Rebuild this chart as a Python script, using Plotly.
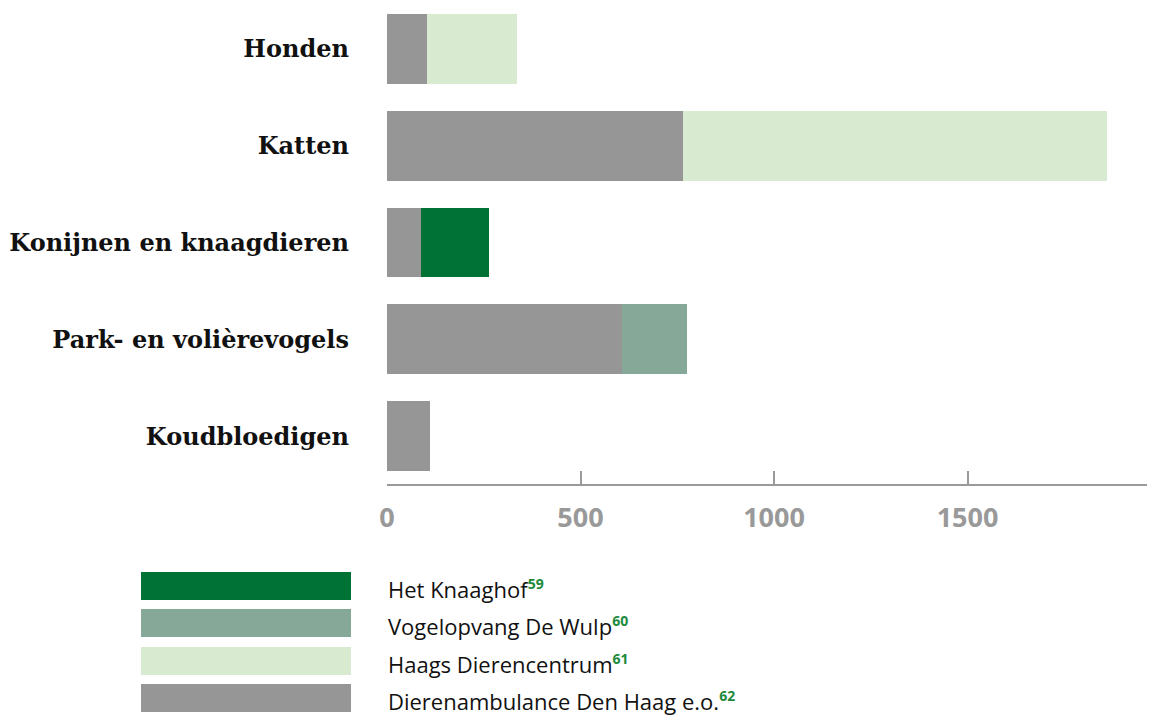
import plotly.graph_objects as go

categories = ["Honden", "Katten", "Konijnen en knaagdieren", "Park- en volièrevogels", "Koudbloedigen"]
dierenambulance = [103, 765, 88, 606, 111]
haags = [232, 1095, 0, 0, 0]
knaaghof = [0, 0, 176, 0, 0]
wulp = [0, 0, 0, 168, 0]
tick_vals = [0, 500, 1000, 1500]

series_names = ["Het Knaaghof", "Vogelopvang De Wulp", "Haags Dierencentrum", "Dierenambulance Den Haag e.o."]
footnotes = ["59", "60", "61", "62"]

C_GRAY = "#969696"
C_LIGHT = "#d8ebd0"
C_DARK = "#007236"
C_WULP = "#85a898"

# page body has an 8px margin; figure coords = window coords - 8
OFF = 8
W, H = 1155, 715
ML, MR, MT = 387 - OFF, 0, 0
PH = 484 - OFF
MB = H - MT - PH
PW = W - ML - MR

fig = go.Figure()
for name, vals, col in [
    ("Dierenambulance Den Haag e.o.", dierenambulance, C_GRAY),
    ("Haags Dierencentrum", haags, C_LIGHT),
    ("Het Knaaghof", knaaghof, C_DARK),
    ("Vogelopvang De Wulp", wulp, C_WULP),
]:
    fig.add_trace(go.Bar(y=categories, x=vals, orientation="h", name=name,
                         marker=dict(color=col, line=dict(width=0)), showlegend=False))

def px_to_paper(wx, wy):
    fx, fy = wx - OFF, wy - OFF
    return (fx - ML) / PW, (MT + PH - fy) / PH

shapes = []
annotations = []
legend_colors = [C_DARK, C_WULP, C_LIGHT, C_GRAY]
tops = [572, 609, 647, 684]
for nm, fn, col, top in zip(series_names, footnotes, legend_colors, tops):
    x0, y0 = px_to_paper(141, top)
    x1, y1 = px_to_paper(351, top + 28)
    shapes.append(dict(type="rect", xref="paper", yref="paper", x0=x0, x1=x1, y0=y1, y1=y0,
                       fillcolor=col, line=dict(width=0)))
    tx, ty = px_to_paper(386, top + 17)
    annotations.append(dict(xref="paper", yref="paper", x=tx, y=ty, xanchor="left", yanchor="middle",
                            showarrow=False,
                            text=f"{nm}<sup><b><span style='color:#1e8a3c;font-size:14px'>{fn}</span></b></sup>",
                            font=dict(family="Open Sans", size=22, color="#111111")))

# category spacing 97px, first category centre at window y=49
sp = 97.0
top_cat = -(49 - OFF) / sp
bot_cat = 4 + (484 - 436) / sp
x_max = (W + OFF - 387) / 0.387

fig.update_layout(
    width=W, height=H,
    margin=dict(l=ML, r=MR, t=MT, b=MB),
    barmode="stack", bargap=0.28,
    paper_bgcolor="white", plot_bgcolor="white",
    shapes=shapes, annotations=annotations,
    xaxis=dict(range=[0, x_max], tickvals=tick_vals, ticks="inside", ticklen=13, tickwidth=2,
               tickcolor="#9a9a9a", showline=True, linecolor="#9a9a9a", linewidth=2,
               showgrid=False, zeroline=False, ticklabelstandoff=9,
               tickfont=dict(family="Open Sans", size=27, color="#999999", weight="bold")),
    yaxis=dict(categoryorder="array", categoryarray=categories, range=[bot_cat, top_cat],
               showgrid=False, zeroline=False, showline=False, ticks="", ticklabelstandoff=37,
               tickfont=dict(family="DejaVu Serif", size=24, color="#111111", weight="bold")),
)

fig.write_html("out.html")
